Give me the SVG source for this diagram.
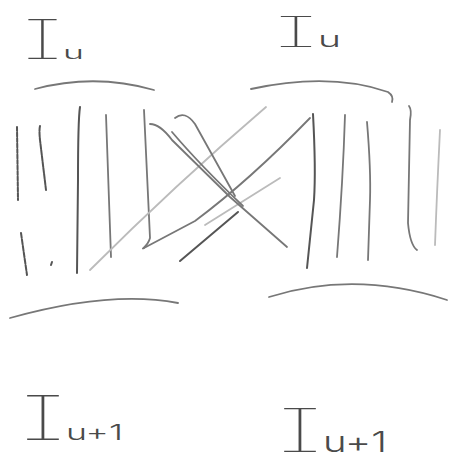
<svg xmlns="http://www.w3.org/2000/svg" width="460" height="469" viewBox="0 0 460 469">
<style>
.s{fill:none;stroke-linecap:round;stroke-linejoin:round}
.d{stroke:#555;stroke-width:2}
.m{stroke:#777;stroke-width:1.8}
.f{stroke:#bbb;stroke-width:1.8}
.lb{font-family:Inter,"DejaVu Sans",sans-serif;font-weight:300;font-feature-settings:"cv08" 1;fill:#4a4a4a}
.ii{font-weight:100}
</style>
<rect width="460" height="469" fill="#fff"/>
<g id="label-top-left">
<text class="lb" x="22" y="59"><tspan class="ii" font-size="54" textLength="41" lengthAdjust="spacingAndGlyphs">I</tspan><tspan font-size="17" textLength="21" lengthAdjust="spacingAndGlyphs">u</tspan></text>
</g>
<g id="label-top-right">
<text class="lb" x="274" y="47"><tspan class="ii" font-size="42" textLength="44" lengthAdjust="spacingAndGlyphs">I</tspan><tspan font-size="22" textLength="23" lengthAdjust="spacingAndGlyphs">u</tspan></text>
</g>
<g id="label-bottom-left">
<text class="lb" x="20" y="440"><tspan class="ii" font-size="62" textLength="46" lengthAdjust="spacingAndGlyphs">I</tspan><tspan font-size="22" textLength="57" lengthAdjust="spacingAndGlyphs">u+1</tspan></text>
</g>
<g id="label-bottom-right">
<text class="lb" x="277" y="452"><tspan class="ii" font-size="60" textLength="46" lengthAdjust="spacingAndGlyphs">I</tspan><tspan font-size="28" textLength="64" lengthAdjust="spacingAndGlyphs">u+1</tspan></text>
</g>
<g id="braces">
<path class="s m" d="M35,89 Q95,73 154,90"/>
<path class="s m" d="M251,89 Q330,72 388,92 Q394,96 392,102"/>
<path class="s m" d="M10,318 Q110,290 178,303"/>
<path class="s m" d="M269,297 Q355,270 447,300"/>
</g>
<g id="left-strands">
<path class="s d" d="M17,127 L18,200" stroke-dasharray="4,1.5"/>
<path class="s d" d="M21,233 L27,275" stroke-dasharray="5,1.5"/>
<path class="s d" d="M40,126 Q39,130 40,140 L46,190" stroke-dasharray="5,1"/>
<path class="s d" d="M52,262 L51,265"/>
<path class="s d" d="M80,107 Q78,120 78,180 L77,273"/>
<path class="s m" d="M106,115 L111,257"/>
<path class="s m" d="M144,110 L150,238 C148,246 140,250 144,248"/>
</g>
<g id="right-strands">
<path class="s d" d="M313,114 Q316,170 314,200 L307,268"/>
<path class="s m" d="M345,115 Q343,180 337,257"/>
<path class="s m" d="M367,122 Q371,170 370,200 L368,260"/>
<path class="s m" d="M409,106 Q412,110 410,120 L408,223 Q410,245 417,250"/>
<path class="s f" d="M440,130 Q437,190 435,245"/>
</g>
<g id="connectors">
<path class="s f" d="M90,270 Q175,185 266,107"/>
<path class="s m" d="M144,248 L195,221 Q250,180 310,118" stroke="#999"/>
<path class="s d" d="M180,261 L238,212"/>
<path class="s f" d="M205,225 L280,178"/>
<path class="s m" d="M150,124 Q160,124 172,140 L230,197 L287,247"/>
<path class="s m" d="M172,132 Q200,165 243,206"/>
<path class="s m" d="M175,118 Q185,110 195,124 L235,196" stroke="#999"/>
</g>
</svg>
